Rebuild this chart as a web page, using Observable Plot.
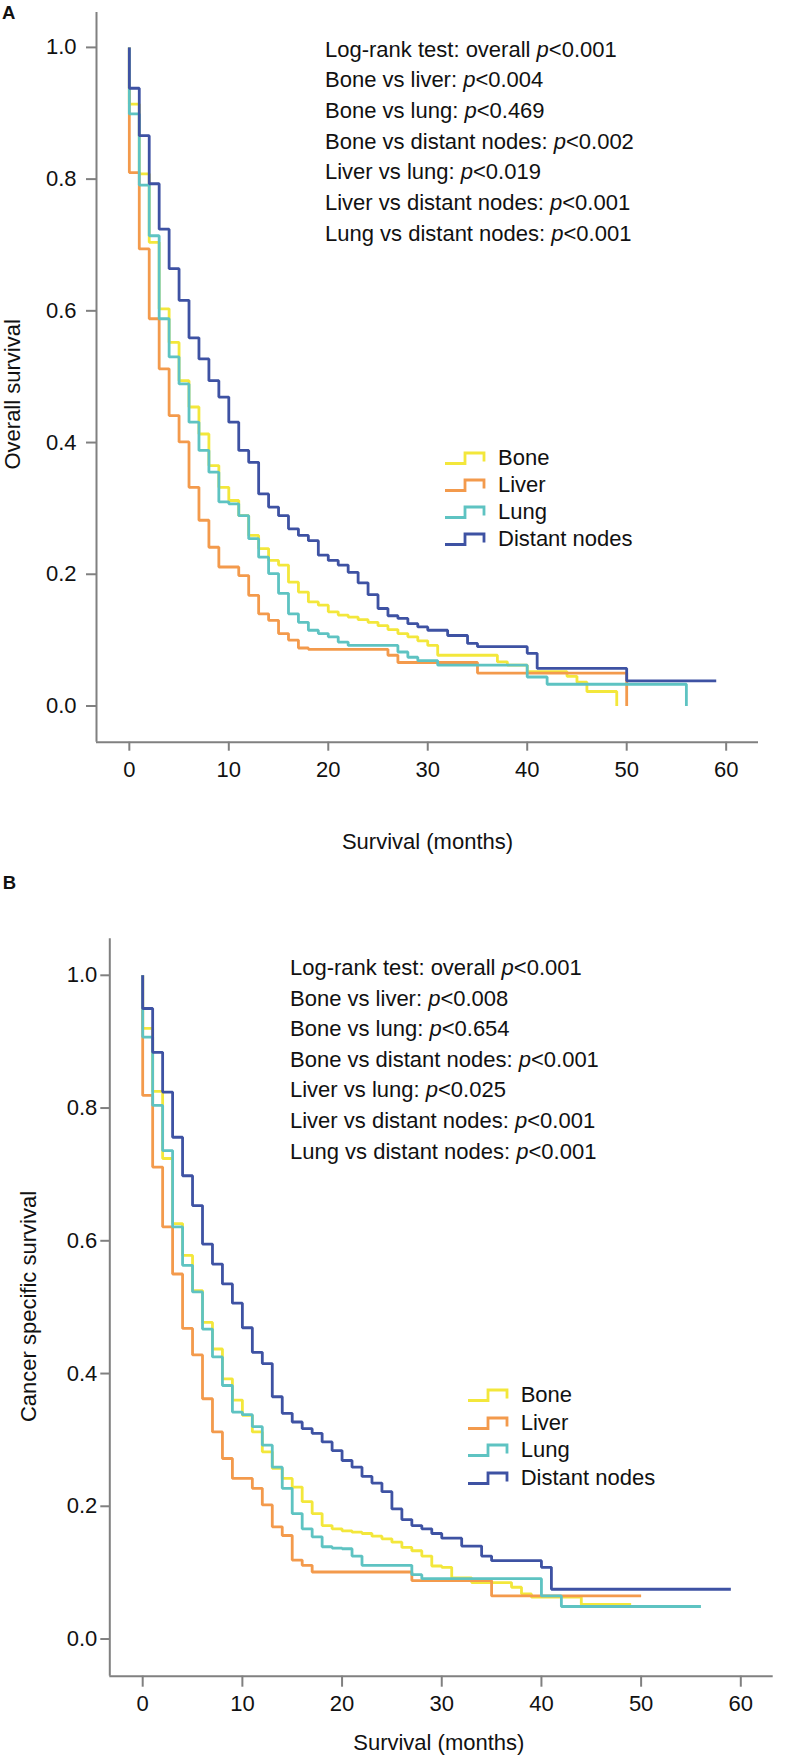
<!DOCTYPE html>
<html><head><meta charset="utf-8">
<script src="https://cdn.jsdelivr.net/npm/d3@7"></script>
<script src="https://cdn.jsdelivr.net/npm/@observablehq/plot@0.6"></script>
<style>
body{margin:0;background:#fff;}
#page{position:relative;width:800px;height:1755px;font-family:"Liberation Sans",Arial,Helvetica,sans-serif;color:#111;overflow:hidden;background:#fff;}
.tag{position:absolute;font-weight:bold;font-size:18.5px;line-height:1;}
.notes{position:absolute;font-size:22px;white-space:nowrap;}
.legend{position:absolute;font-size:22px;white-space:nowrap;}
.legend .row{display:flex;align-items:center;}
.legend svg{display:block;}
</style></head><body><div id="page"></div>
<script>
// ---------- data ----------
const seriesNames = ["Bone", "Liver", "Lung", "Distant nodes"];
const seriesColors = ["#f3e73b", "#f39a4c", "#5ec3c2", "#3e52a3"];
const xTicks = [0, 10, 20, 30, 40, 50, 60];
const yTicks = [0, 0.2, 0.4, 0.6, 0.8, 1.0];
const xDomain = [-3.3, 63.25];
const yDomainA = [-0.055, 1.053];
const yDomainB = [-0.056, 1.055];

// Overall survival (panel A); index = month
const osBone = [0.914,0.808,0.704,0.603,0.552,0.494,0.454,0.413,0.365,0.332,
  0.312,0.289,0.259,0.239,0.221,0.214,0.188,0.173,0.158,0.153,
  0.143,0.138,0.135,0.131,0.127,0.122,0.116,0.110,0.105,0.099,
  0.092,0.077,0.077,0.077,0.077,0.077,0.077,0.067,0.062,0.062,
  0.052,0.052,0.052,0.052,0.045,0.036,0.022,0.022,0.022,0];
const osLiver = [0.810,0.694,0.588,0.512,0.441,0.401,0.332,0.282,0.241,0.211,
  0.211,0.198,0.168,0.140,0.130,0.110,0.100,0.088,0.086,0.086,
  0.086,0.086,0.086,0.086,0.086,0.086,0.077,0.066,0.066,0.066,
  0.066,0.066,0.066,0.066,0.066,0.050,0.050,0.050,0.050,0.050,
  0.050,0.050,0.050,0.050,0.050,0.050,0.050,0.050,0.050,0.050,
  0];
const osLung = [0.899,0.791,0.714,0.588,0.530,0.489,0.431,0.388,0.355,0.310,
  0.307,0.289,0.254,0.226,0.201,0.171,0.140,0.127,0.115,0.110,
  0.105,0.097,0.092,0.092,0.092,0.092,0.092,0.082,0.074,0.069,
  0.069,0.062,0.062,0.062,0.062,0.062,0.062,0.062,0.062,0.062,
  0.044,0.044,0.033,0.033,0.033,0.033,0.033,0.033,0.033,0.033,
  0.033,0.033,0.033,0.033,0.033,0.033,0];
const osNodes = [0.938,0.866,0.793,0.724,0.664,0.616,0.559,0.527,0.494,0.469,
  0.431,0.388,0.370,0.322,0.302,0.289,0.269,0.259,0.251,0.229,
  0.221,0.214,0.203,0.187,0.169,0.148,0.137,0.133,0.125,0.120,
  0.115,0.115,0.107,0.107,0.095,0.090,0.090,0.090,0.090,0.090,
  0.080,0.057,0.057,0.057,0.057,0.057,0.057,0.057,0.057,0.057,
  0.038,0.038,0.038,0.038,0.038,0.038,0.038,0.038,0.038,0.038];

// Cancer specific survival (panel B); index = month
const cssBone = [0.920,0.825,0.724,0.626,0.578,0.525,0.477,0.437,0.392,0.360,
  0.337,0.312,0.282,0.257,0.242,0.229,0.207,0.189,0.171,0.166,
  0.163,0.161,0.159,0.155,0.151,0.146,0.138,0.133,0.125,0.110,
  0.108,0.092,0.092,0.085,0.085,0.085,0.085,0.078,0.068,0.063,
  0.063,0.063,0.063,0.063,0.052,0.052,0.052,0.052,0.052,0.052];
const cssLiver = [0.819,0.711,0.621,0.550,0.468,0.428,0.362,0.312,0.272,0.242,
  0.242,0.227,0.202,0.169,0.156,0.119,0.111,0.101,0.101,0.101,
  0.101,0.101,0.101,0.101,0.101,0.101,0.101,0.088,0.088,0.088,
  0.088,0.088,0.088,0.088,0.088,0.065,0.065,0.065,0.065,0.065,
  0.065,0.065,0.065,0.065,0.065,0.065,0.065,0.065,0.065,0.065,
  0.065];
const cssLung = [0.907,0.804,0.736,0.621,0.563,0.523,0.467,0.425,0.382,0.342,
  0.338,0.320,0.292,0.259,0.227,0.189,0.166,0.154,0.139,0.137,
  0.136,0.125,0.111,0.111,0.111,0.111,0.111,0.097,0.091,0.091,
  0.091,0.091,0.091,0.091,0.091,0.091,0.091,0.091,0.091,0.091,
  0.065,0.065,0.049,0.049,0.049,0.049,0.049,0.049,0.049,0.049,
  0.049,0.049,0.049,0.049,0.049,0.049,0.049];
const cssNodes = [0.950,0.884,0.824,0.756,0.698,0.653,0.595,0.565,0.535,0.506,
  0.469,0.432,0.415,0.365,0.340,0.327,0.317,0.310,0.297,0.284,
  0.269,0.259,0.245,0.235,0.222,0.196,0.180,0.171,0.166,0.159,
  0.152,0.152,0.140,0.140,0.125,0.118,0.118,0.118,0.118,0.118,
  0.108,0.075,0.075,0.075,0.075,0.075,0.075,0.075,0.075,0.075,
  0.075,0.075,0.075,0.075,0.075,0.075,0.075,0.075,0.075,0.075];

const testLabels = ["Log-rank test: overall", "Bone vs liver:", "Bone vs lung:", "Bone vs distant nodes:",
  "Liver vs lung:", "Liver vs distant nodes:", "Lung vs distant nodes:"];
const osTestP = ["0.001", "0.004", "0.469", "0.002", "0.019", "0.001", "0.001"];
const cssTestP = ["0.001", "0.008", "0.654", "0.001", "0.025", "0.001", "0.001"];

// ---------- drawing ----------
const page = document.getElementById("page");
const axisGrey = "#808080";
const fontFamily = '"Liberation Sans", Arial, Helvetica, sans-serif';

function panel(cfg) {
  const rows = seriesNames.flatMap((name, k) => [
    {series: name, month: 0, surv: 1},
    ...cfg.values[k].map((v, i) => ({series: name, month: i, surv: v}))
  ]);
  const svg = Plot.plot({
    width: 800, height: cfg.height,
    marginTop: cfg.mt, marginRight: cfg.mr, marginBottom: cfg.mb, marginLeft: cfg.ml,
    style: {fontFamily, fontSize: "22px", color: "#111", background: "transparent", overflow: "visible"},
    x: {domain: xDomain},
    y: {domain: cfg.yDomain},
    color: {domain: seriesNames, range: seriesColors},
    marks: [
      Plot.ruleX([xDomain[0]], {stroke: axisGrey, strokeWidth: 2}),
      Plot.ruleY([cfg.yDomain[0]], {stroke: axisGrey, strokeWidth: 2}),
      Plot.axisY(yTicks, {tickFormat: d3.format(".1f"), tickSize: cfg.yTickSize, tickPadding: cfg.yTickPad,
        stroke: axisGrey, strokeWidth: 2, fill: "#111", label: null}),
      Plot.axisX(xTicks, {tickSize: cfg.xTickSize, tickPadding: cfg.xTickPad,
        stroke: axisGrey, strokeWidth: 2, fill: "#111", label: null}),
      Plot.line(rows, {x: "month", y: "surv", z: "series", stroke: "series", curve: "step-after",
        strokeWidth: 2.8, strokeLinejoin: "miter", strokeLinecap: "butt"}),
      Plot.text([cfg.yLabel], {frameAnchor: "left", textAnchor: "middle", lineAnchor: "middle",
        rotate: -90, dx: cfg.yLabDx, dy: cfg.yLabDy, text: d => d, fontSize: 22, fill: "#111"}),
      Plot.text([cfg.xLabel], {frameAnchor: "bottom", textAnchor: "middle", lineAnchor: "middle",
        dx: cfg.xLabDx, dy: cfg.xLabDy, text: d => d, fontSize: 22, fill: "#111"})
    ]
  });
  svg.style.position = "absolute";
  svg.style.left = "0px";
  svg.style.top = cfg.top + "px";
  page.appendChild(svg);
}

function tag(letter, left, top) {
  const d = document.createElement("div");
  d.className = "tag";
  d.style.left = left + "px";
  d.style.top = top + "px";
  d.textContent = letter;
  page.appendChild(d);
}

function notes(pvals, left, top, pitch) {
  const d = document.createElement("div");
  d.className = "notes";
  d.style.left = left + "px";
  d.style.top = top + "px";
  d.style.lineHeight = pitch + "px";
  testLabels.forEach((lab, i) => {
    const l = document.createElement("div");
    l.append(lab + " ");
    const it = document.createElement("i");
    it.textContent = "p";
    l.append(it);
    l.append("<" + pvals[i]);
    d.appendChild(l);
  });
  page.appendChild(d);
}

function legend(left, top, pitch, gap) {
  const d = document.createElement("div");
  d.className = "legend";
  d.style.left = left + "px";
  d.style.top = top + "px";
  seriesNames.forEach((name, k) => {
    const r = document.createElement("div");
    r.className = "row";
    r.style.height = pitch + "px";
    const s = d3.create("svg").attr("width", 42).attr("height", 16);
    s.append("path").attr("d", "M1,13.5H21V3H40V11.5").attr("fill", "none")
      .attr("stroke", seriesColors[k]).attr("stroke-width", 2.8);
    s.style("margin-right", gap + "px");
    r.appendChild(s.node());
    const t = document.createElement("span");
    t.textContent = name;
    r.appendChild(t);
    d.appendChild(r);
  });
  page.appendChild(d);
}

panel({
  values: [osBone, osLiver, osLung, osNodes], yDomain: yDomainA,
  top: 0, height: 860, mt: 12, mr: 42, mb: 118.3, ml: 96,
  yTickSize: 10, yTickPad: 10, xTickSize: 9, xTickPad: 10,
  yLabel: "Overall survival", yLabDx: -83.5, yLabDy: 17,
  xLabel: "Survival (months)", xLabDx: 0, xLabDy: 99.8
});
panel({
  values: [cssBone, cssLiver, cssLung, cssNodes], yDomain: yDomainB,
  top: 860, height: 895, mt: 78.3, mr: 27.3, mb: 79.3, ml: 109.3,
  yTickSize: 9, yTickPad: 3.5, xTickSize: 11, xTickPad: 8,
  yLabel: "Cancer specific survival", yLabDx: -81.3, yLabDy: -1,
  xLabel: "Survival (months)", xLabDx: -2.7, xLabDy: 66.3
});

tag("A", 2, 4.3);
tag("B", 2.7, 874.3);
notes(osTestP, 325, 34.6, 30.7);
notes(cssTestP, 290, 953, 30.6);
legend(444, 444.5, 27, 12);
legend(467, 1381, 27.8, 11.7);
</script></body></html>
